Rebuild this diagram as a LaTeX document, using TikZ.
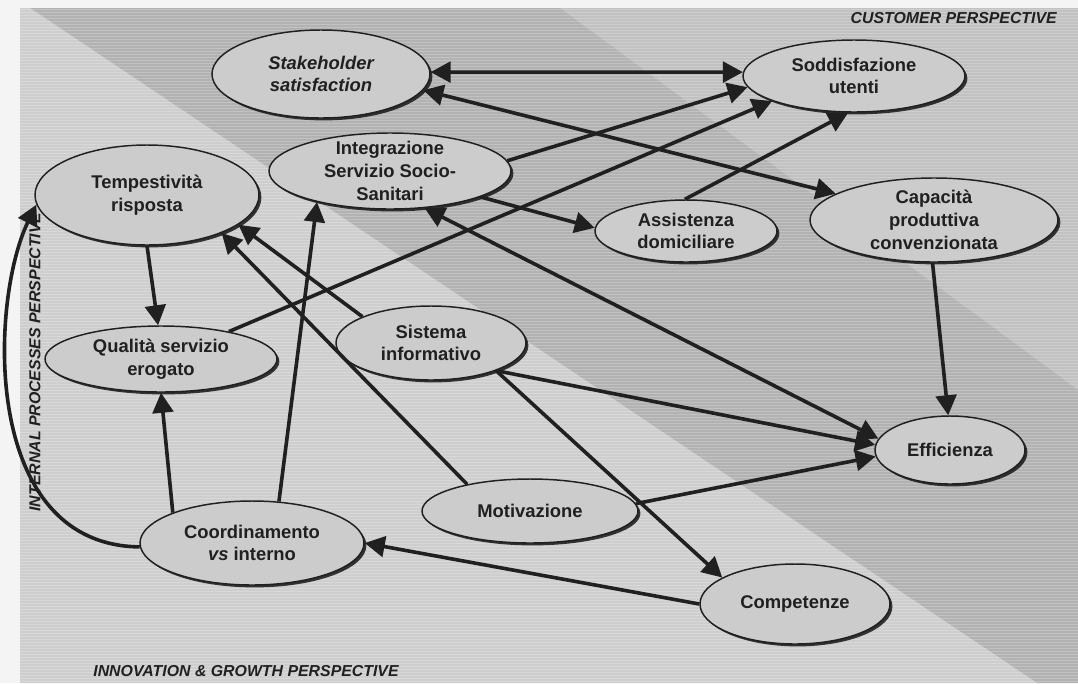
\documentclass[tikz,border=0pt]{standalone}
\usepackage{fontspec}
\setmainfont{Liberation Sans}
\usetikzlibrary{arrows.meta,shapes.geometric,shadows}

\definecolor{ink}{HTML}{202020}
\definecolor{paper}{HTML}{F4F4F4}
\definecolor{bglight}{HTML}{CECECE}
\definecolor{bgdark}{HTML}{B2B2B2}
\definecolor{bgmid}{HTML}{C1C1C1}
\definecolor{ovalfill}{HTML}{CCCCCC}

\begin{document}
\begin{tikzpicture}[x=0.75pt,y=-0.75pt,
  oval/.style 2 args={ellipse, draw=ink, line width=1.1pt, fill=ovalfill,
    inner sep=0pt, minimum width=#1*0.75pt, minimum height=#2*0.75pt,
    drop shadow={shadow xshift=1.8pt, shadow yshift=-1.8pt, fill=ink, opacity=0.9}},
  lbl/.style={font=\bfseries\fontsize{13.8}{17}\selectfont, text=ink,
    align=center, inner sep=0pt},
  persp/.style={font=\bfseries\itshape\fontsize{11.9}{14}\selectfont, text=ink,
    inner sep=0pt},
  tip/.tip={Triangle[length=15pt,width=15.5pt]},
  link/.style={draw=ink, line width=2.7pt, -tip},
  both/.style={draw=ink, line width=2.7pt, tip-tip}
]
\useasboundingbox (0,0) rectangle (1078,683);

% page and the three shaded perspective areas
\fill[paper] (0,0) rectangle (1078,683);
\fill[bgmid] (20,8) rectangle (1078,683);
\fill[bgdark] (30,8) -- (560,8) -- (1078,390) -- (1078,683) -- (1037,683) -- cycle;
\fill[bglight] (20,8) -- (30,8) -- (1037,683) -- (20,683) -- cycle;
% horizontal screen texture
\foreach \y in {9,12,...,681}
  \draw[white, opacity=0.22, line width=0.75pt] (20,\y+0.5) -- (1078,\y+0.5);

% perspective captions
\node[persp, anchor=east] (custp) at (1057,18) {CUSTOMER PERSPECTIVE};
\node[persp] (innp) at (246,671) {INNOVATION \& GROWTH PERSPECTIVE};
\node[persp, rotate=90] (intp) at (35,362) {INTERNAL PROCESSES PERSPECTIVE};

% objectives
\node[oval={218}{88}] (stk) at (321,74) {};
\node[oval={222}{72}] (sod) at (854,76) {};
\node[oval={242}{76}] (int) at (390,171) {};
\node[oval={224}{100}] (tem) at (147,195) {};
\node[oval={182}{62}] (ass) at (686,231) {};
\node[oval={248}{84}] (cap) at (934,220) {};
\node[oval={232}{66}] (qua) at (161,359) {};
\node[oval={190}{74}] (sis) at (431,343) {};
\node[oval={150}{68}] (eff) at (950,450) {};
\node[oval={216}{64}] (mot) at (530,511) {};
\node[oval={224}{84}] (coo) at (252,543) {};
\node[oval={190}{80}] (com) at (795,604) {};

\node[lbl, font=\bfseries\itshape\fontsize{13.8}{17}\selectfont] (stk-t) at (stk) {Stakeholder\\satisfaction};
\node[lbl] (sod-t) at (sod) {Soddisfazione\\utenti};
\node[lbl] (int-t) at (int) {Integrazione\\Servizio Socio-\\Sanitari};
\node[lbl] (tem-t) at (tem) {Tempestività\\risposta};
\node[lbl] (ass-t) at (ass) {Assistenza\\domiciliare};
\node[lbl] (cap-t) at (cap) {Capacità\\produttiva\\convenzionata};
\node[lbl] (qua-t) at (qua) {Qualità servizio\\erogato};
\node[lbl] (sis-t) at (sis) {Sistema\\informativo};
\node[lbl] (eff-t) at (eff) {Efficienza};
\node[lbl] (mot-t) at (mot) {Motivazione};
\node[lbl] (coo-t) at (coo) {Coordinamento\\\textit{vs} interno};
\node[lbl] (com-t) at (com) {Competenze};

% cause-effect links
\draw[both] (stk.1) -- (sod.178);
\draw[both] (stk.-9) -- (cap.165);
\draw[link] (int.5) -- (sod.186);
\draw[link] (qua.22) -- (sod.197);
\draw[link] (ass.92) -- (sod.261);
\draw[link] (int.-16) -- (ass.178);
\draw[both] (int.-47) -- (eff.171);
\draw[link] (sis.-23) -- (eff.176);
\draw[link] (sis.-23) -- (com.160);
\draw[link] (mot.4) -- (eff.185);
\draw[link] (cap.268) -- (eff.93);
\draw[link] (sis.159) -- (tem.-18);
\draw[link] (mot.157) -- (tem.-27);
\draw[link] (coo.57) -- (int.203);
\draw[link] (coo.159) -- (qua.270);
\draw[link] (tem.270) -- (qua.95);
\draw[link] (com.180) -- (coo.0);
\draw[link] (coo.182) .. controls (-20,545) and (-10,300) .. (tem.185);
\end{tikzpicture}
\end{document}
